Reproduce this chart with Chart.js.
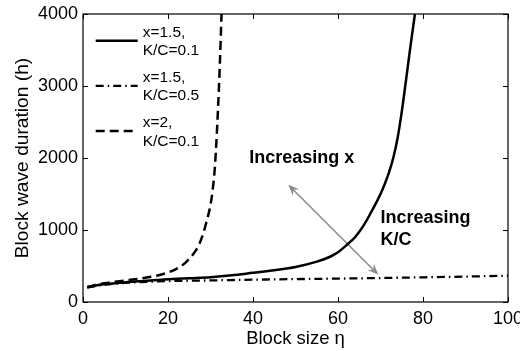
<!DOCTYPE html>
<html><head><meta charset="utf-8">
<script src="https://cdn.jsdelivr.net/npm/chart.js@4.4.1/dist/chart.umd.min.js"></script>
<style>html,body{margin:0;padding:0;background:#fff}</style>
</head><body>
<canvas id="c" width="520" height="351"></canvas>
<script>
// ---- data ----
const xTicks = [0, 20, 40, 60, 80, 100];
const yTicks = [0, 1000, 2000, 3000, 4000];

const legendLabels = [['x=1.5,', 'K/C=0.1'], ['x=1.5,', 'K/C=0.5'], ['x=2,', 'K/C=0.1']];

const solidEta = [1, 3, 5, 10, 15, 20, 25, 30, 35, 40, 45, 50, 55, 58, 60, 62, 64, 66, 68, 69, 70, 71, 72, 73, 74, 75, 76, 77, 78.1];
const solidDur = [210, 230, 245, 275, 295, 315, 330, 345, 370, 405, 440, 485, 560, 625, 690, 790, 900, 1060, 1270, 1380, 1500, 1640, 1800, 2000, 2270, 2640, 3080, 3530, 4000];

const dashDotEta = [1, 5, 10, 20, 30, 40, 50, 60, 70, 80, 90, 100];
const dashDotDur = [200, 240, 265, 290, 300, 310, 318, 325, 333, 343, 353, 365];

const dashedEta = [1, 3, 5, 8, 10, 13, 16, 18, 20, 22, 24, 25, 26, 27, 28, 29, 30, 30.5, 31, 31.5, 32, 32.2, 32.6];
const dashedDur = [205, 235, 260, 285, 300, 320, 350, 375, 410, 460, 540, 600, 670, 760, 900, 1100, 1350, 1550, 1850, 2350, 3000, 3300, 4000];

// annotation (data units)
const arrowEta = [48.3, 69.5];
const arrowDur = [1629, 379];
const noteX = {text: ['Increasing x'], eta: 39.1, dur: 2004};
const noteKC = {text: ['Increasing', 'K/C'], eta: 70.0, dur: 1171};

const pts = (xs, ys) => xs.map((x, i) => ({x: x, y: ys[i]}));
const FONT = '"Liberation Sans", Arial, Helvetica, sans-serif';

const styles = [
  {borderDash: [], width: 2.5},
  {borderDash: [8, 4, 1.5, 4], width: 2.3},
  {borderDash: [9, 5], width: 2.5}
];

const decor = {
  id: 'decor',
  beforeDatasetsDraw(chart) {
    const ctx = chart.ctx, xs = chart.scales.x, ys = chart.scales.y;
    const x1 = xs.getPixelForValue(arrowEta[0]), y1 = ys.getPixelForValue(arrowDur[0]);
    const x2 = xs.getPixelForValue(arrowEta[1]), y2 = ys.getPixelForValue(arrowDur[1]);
    ctx.save();
    ctx.strokeStyle = '#8c8c8c'; ctx.fillStyle = '#8c8c8c'; ctx.lineWidth = 1.6;
    const ang = Math.atan2(y2 - y1, x2 - x1);
    const L = 11, W = 4.5;
    ctx.beginPath();
    ctx.moveTo(x1 + Math.cos(ang) * 6, y1 + Math.sin(ang) * 6);
    ctx.lineTo(x2 - Math.cos(ang) * 6, y2 - Math.sin(ang) * 6);
    ctx.stroke();
    function head(px, py, a) {
      ctx.beginPath();
      ctx.moveTo(px, py);
      ctx.lineTo(px - L * Math.cos(a) + W * Math.sin(a), py - L * Math.sin(a) - W * Math.cos(a));
      ctx.lineTo(px - 0.65 * L * Math.cos(a), py - 0.65 * L * Math.sin(a));
      ctx.lineTo(px - L * Math.cos(a) - W * Math.sin(a), py - L * Math.sin(a) + W * Math.cos(a));
      ctx.closePath(); ctx.fill();
    }
    head(x2, y2, ang);
    head(x1, y1, ang + Math.PI);
    ctx.restore();
  },
  afterDraw(chart) {
    const ctx = chart.ctx, a = chart.chartArea, xs = chart.scales.x, ys = chart.scales.y;
    ctx.save();
    // frame
    ctx.strokeStyle = '#000'; ctx.lineWidth = 1.2;
    ctx.strokeRect(a.left, a.top, a.right - a.left, a.bottom - a.top);
    // inward ticks on all sides
    const T = 5;
    ctx.lineWidth = 1;
    ctx.beginPath();
    xs.ticks.forEach(t => {
      const p = Math.round(xs.getPixelForValue(t.value)) + 0.5;
      ctx.moveTo(p, a.bottom); ctx.lineTo(p, a.bottom - T);
      ctx.moveTo(p, a.top); ctx.lineTo(p, a.top + T);
    });
    ys.ticks.forEach(t => {
      const p = Math.round(ys.getPixelForValue(t.value)) + 0.5;
      ctx.moveTo(a.left, p); ctx.lineTo(a.left + T, p);
      ctx.moveTo(a.right, p); ctx.lineTo(a.right - T, p);
    });
    ctx.stroke();
    // legend
    ctx.font = '15.5px ' + FONT;
    ctx.fillStyle = '#000'; ctx.textBaseline = 'middle'; ctx.textAlign = 'left';
    chart.data.datasets.forEach((ds, i) => {
      const ly = a.top + 26.7 + i * 45.2;
      ctx.save();
      ctx.strokeStyle = ds.borderColor; ctx.lineWidth = ds.borderWidth;
      ctx.setLineDash(ds.borderDash || []);
      ctx.beginPath(); ctx.moveTo(a.left + 12.7, ly); ctx.lineTo(a.left + 54.7, ly); ctx.stroke();
      ctx.restore();
      legendLabels[i].forEach((s, j) => ctx.fillText(s, a.left + 59.7, ly - 8.4 + j * 18.7));
    });
    // notes
    ctx.font = 'bold 18px ' + FONT;
    [noteX, noteKC].forEach(n => {
      const px = xs.getPixelForValue(n.eta), py = ys.getPixelForValue(n.dur);
      n.text.forEach((s, j) => ctx.fillText(s, px, py + j * 22));
    });
    ctx.restore();
  }
};

Chart.defaults.font.family = FONT;
Chart.defaults.color = '#000';

const mk = (i, xs, ys) => ({
  label: legendLabels[i].join(' '), data: pts(xs, ys), borderColor: '#000',
  borderWidth: styles[i].width, borderDash: styles[i].borderDash,
  pointRadius: 0, cubicInterpolationMode: 'monotone', fill: false
});

new Chart(document.getElementById('c'), {
  type: 'line',
  data: {
    datasets: [mk(0, solidEta, solidDur), mk(1, dashDotEta, dashDotDur), mk(2, dashedEta, dashedDur)]
  },
  options: {
    responsive: false, animation: false, devicePixelRatio: 1,
    layout: {padding: {top: 14, right: 12, left: 0, bottom: 0}},
    plugins: {legend: {display: false}, tooltip: {enabled: false}},
    scales: {
      x: {
        type: 'linear', min: 0, max: 100,
        afterBuildTicks: s => { s.ticks = xTicks.map(v => ({value: v})); },
        ticks: {font: {size: 18}, padding: 6, maxRotation: 0, autoSkip: false, callback: v => String(v)},
        grid: {display: false, drawTicks: false},
        border: {display: false},
        title: {display: true, text: 'Block size η', font: {size: 18.5}, padding: {top: 0, bottom: 1}},
        afterFit: s => { s.height = 49; s.paddingLeft = 0; s.paddingRight = 0; }
      },
      y: {
        type: 'linear', min: 0, max: 4000,
        afterBuildTicks: s => { s.ticks = yTicks.map(v => ({value: v})); },
        ticks: {font: {size: 18}, padding: 5, callback: v => String(v)},
        grid: {display: false, drawTicks: false},
        border: {display: false},
        title: {display: true, text: 'Block wave duration (h)', font: {size: 19.2}, padding: {top: 11, bottom: 0}},
        afterFit: s => { s.width = 83; s.paddingTop = 0; s.paddingBottom = 0; }
      }
    }
  },
  plugins: [decor]
});
</script>
</body></html>
